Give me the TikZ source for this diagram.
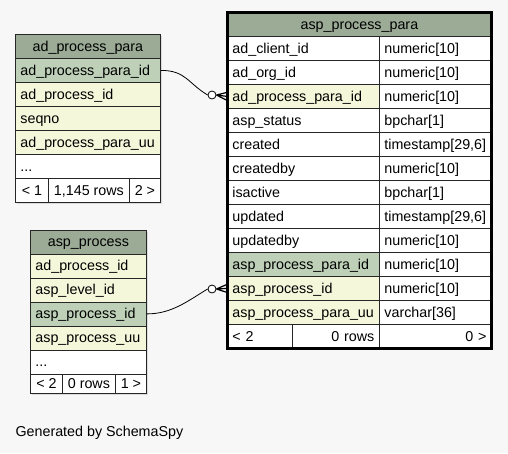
\documentclass[tikz,border=0pt]{standalone}
\usepackage{fontspec}
\setmainfont{Liberation Sans}
\definecolor{hdrgreen}{HTML}{9BAB96}
\definecolor{pkgreen}{HTML}{BED1B8}
\definecolor{idxyellow}{HTML}{F4F7DA}
\definecolor{bggray}{HTML}{F7F7F7}
\tikzset{
  cell/.style={draw=black!85, line width=0.8pt, rectangle, anchor=north west,
    minimum height=24pt, inner xsep=5pt, inner ysep=0pt,
    text height=10pt, text depth=0.6pt, align=left,
    font=\fontsize{14.3}{17}\selectfont},
  hdrcell/.style={cell, fill=hdrgreen, align=center},
  pkcell/.style={cell, fill=pkgreen},
  fkcell/.style={cell, fill=idxyellow},
  plaincell/.style={cell, fill=white},
  footcell/.style={cell, fill=white, inner xsep=1pt, align=center},
  linkdot/.style={circle, draw, fill=white, minimum size=8pt, inner sep=0pt, line width=0.8pt},
}
\begin{document}
\begin{tikzpicture}[x=1pt, y=-1pt]
  \useasboundingbox[fill=bggray] (0,0) rectangle (508,453);
  % shadows of the small tables
  \fill[black!14] (17,36) rectangle (162,204);
  \fill[black!14] (32,231.5) rectangle (148,395);

  % ad_process_para
  \node[hdrcell, text width=135pt] (pp) at (15,34) {ad\_process\_para};
  \node[pkcell, text width=135pt] (pp-id) at (15,58) {ad\_process\_para\_id};
  \node[fkcell, text width=135pt] (pp-proc) at (15,82) {ad\_process\_id};
  \node[fkcell, text width=135pt] (pp-seq) at (15,106) {seqno};
  \node[fkcell, text width=135pt] (pp-uu) at (15,130) {ad\_process\_para\_uu};
  \node[plaincell, text width=135pt] (pp-more) at (15,154) {...};
  \node[footcell, minimum width=33pt] (pp-prev) at (15,178) {< 1};
  \node[footcell, minimum width=81pt] (pp-rows) at (48,178) {1,145 rows};
  \node[footcell, minimum width=31pt] (pp-next) at (129,178) {2 >};

  % asp_process
  \node[hdrcell, text width=106pt] (ap) at (30,229.5) {asp\_process};
  \node[fkcell, text width=106pt] (ap-proc) at (30,253.5) {ad\_process\_id};
  \node[fkcell, text width=106pt] (ap-level) at (30,277.5) {asp\_level\_id};
  \node[pkcell, text width=106pt] (ap-id) at (30,301.5) {asp\_process\_id};
  \node[fkcell, text width=106pt] (ap-uu) at (30,325.5) {asp\_process\_uu};
  \node[plaincell, text width=106pt] (ap-more) at (30,349.5) {...};
  \node[footcell, minimum width=32pt, minimum height=19.5pt] (ap-prev) at (30,373.5) {< 2};
  \node[footcell, minimum width=53pt, minimum height=19.5pt] (ap-rows) at (62,373.5) {0 rows};
  \node[footcell, minimum width=31pt, minimum height=19.5pt] (ap-next) at (115,373.5) {1 >};

  % asp_process_para
  \node[hdrcell, text width=254pt] (app) at (227,12) {asp\_process\_para};
  \node[plaincell, text width=142pt] (app-client) at (227,36) {ad\_client\_id};
  \node[plaincell, text width=102pt] (app-client-t) at (379,36) {numeric[10]};
  \node[plaincell, text width=142pt] (app-org) at (227,60) {ad\_org\_id};
  \node[plaincell, text width=102pt] (app-org-t) at (379,60) {numeric[10]};
  \node[fkcell, text width=142pt] (app-ppid) at (227,84) {ad\_process\_para\_id};
  \node[plaincell, text width=102pt] (app-ppid-t) at (379,84) {numeric[10]};
  \node[plaincell, text width=142pt] (app-status) at (227,108) {asp\_status};
  \node[plaincell, text width=102pt] (app-status-t) at (379,108) {bpchar[1]};
  \node[plaincell, text width=142pt] (app-created) at (227,132) {created};
  \node[plaincell, text width=102pt] (app-created-t) at (379,132) {timestamp[29,6]};
  \node[plaincell, text width=142pt] (app-createdby) at (227,156) {createdby};
  \node[plaincell, text width=102pt] (app-createdby-t) at (379,156) {numeric[10]};
  \node[plaincell, text width=142pt] (app-active) at (227,180) {isactive};
  \node[plaincell, text width=102pt] (app-active-t) at (379,180) {bpchar[1]};
  \node[plaincell, text width=142pt] (app-updated) at (227,204) {updated};
  \node[plaincell, text width=102pt] (app-updated-t) at (379,204) {timestamp[29,6]};
  \node[plaincell, text width=142pt] (app-updatedby) at (227,228) {updatedby};
  \node[plaincell, text width=102pt] (app-updatedby-t) at (379,228) {numeric[10]};
  \node[pkcell, text width=142pt] (app-id) at (227,252) {asp\_process\_para\_id};
  \node[plaincell, text width=102pt] (app-id-t) at (379,252) {numeric[10]};
  \node[fkcell, text width=142pt] (app-apid) at (227,276) {asp\_process\_id};
  \node[plaincell, text width=102pt] (app-apid-t) at (379,276) {numeric[10]};
  \node[fkcell, text width=142pt] (app-uu) at (227,300) {asp\_process\_para\_uu};
  \node[plaincell, text width=102pt] (app-uu-t) at (379,300) {varchar[36]};
  \node[plaincell, text width=55pt] (app-prev) at (227,324) {< 2};
  \node[plaincell, text width=77pt, align=right] (app-rows) at (292,324) {0 rows};
  \node[plaincell, text width=102pt, align=right] (app-next) at (379,324) {0 >};
  \draw[line width=3pt] (app.north west) rectangle (app-next.south east);

  % relationships
  \node[linkdot] (pp-link) at (212,95) {};
  \node[linkdot] (ap-link) at (212,289) {};
  \draw[line width=0.8pt] (pp-id.east) .. controls +(25,0) and +(-20,-12) .. (pp-link.west);
  \draw[line width=0.8pt] (ap-id.east) .. controls +(25,0) and +(-20,12) .. (ap-link.west);
  \draw[line width=1.2pt] (pp-link.east) -- ([yshift=4pt]app-ppid.west)
    (pp-link.east) -- (app-ppid.west) (pp-link.east) -- ([yshift=-4pt]app-ppid.west);
  \draw[line width=1.2pt] (ap-link.east) -- ([yshift=4pt]app-apid.west)
    (ap-link.east) -- (app-apid.west) (ap-link.east) -- ([yshift=-4pt]app-apid.west);

  \node[anchor=west, font=\fontsize{14.3}{17}\selectfont] (gen) at (12,433) {Generated by SchemaSpy};
\end{tikzpicture}
\end{document}
